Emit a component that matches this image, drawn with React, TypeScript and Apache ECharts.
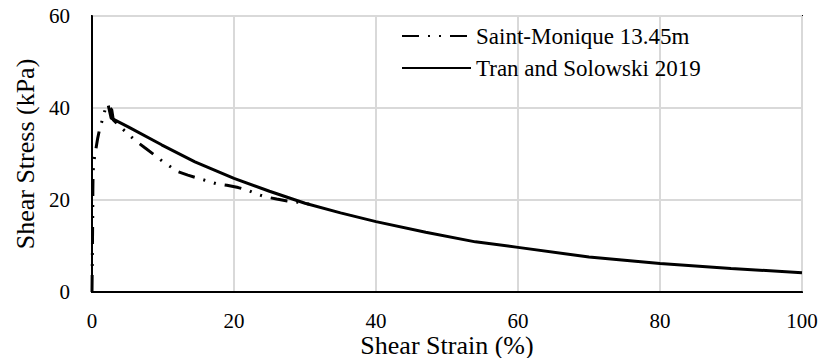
import React, { useEffect, useRef } from "react";
import * as echarts from "echarts";

// Shear strain (%) and shear stress (kPa) pairs for each curve
const saintMoniqueStrain = [0, 0.05, 0.1, 0.12, 0.15, 0.3, 0.56, 0.8, 1.1, 1.46, 1.84, 2.3, 2.78, 3.0, 4.0, 5.1, 6.2, 7.4, 8.7, 10.0, 10.8, 12.0, 13.5, 14.8, 17.6, 19.0, 20.6, 21.8, 23.0, 24.4, 26.0, 27.5, 29.0, 31.0];
const saintMoniqueStress = [0, 8, 16, 22, 26, 28.7, 31.2, 33.4, 35.6, 37.4, 39.6, 40.5, 39.6, 37.4, 35.9, 34.3, 32.8, 31.4, 29.9, 28.3, 27.5, 26.2, 25.4, 24.8, 23.5, 23.2, 22.7, 22.2, 21.4, 20.7, 20.2, 19.8, 19.5, 19.0];

const tranStrain = [2.3, 2.7, 5.1, 9.8, 14.5, 20.0, 25.0, 30.0, 35.0, 40.0, 47.0, 54.0, 60.0, 70.0, 80.0, 90.0, 100.0];
const tranStress = [40.5, 37.8, 35.9, 32.0, 28.3, 24.7, 21.9, 19.3, 17.2, 15.3, 13.0, 10.9, 9.7, 7.6, 6.2, 5.1, 4.2];

const seriesNames = ["Saint-Monique 13.45m", "Tran and Solowski 2019"];
const xTitle = "Shear Strain (%)";
const yTitle = "Shear Stress (kPa)";

const pairs = (xs: number[], ys: number[]) => xs.map((x, i) => [x, ys[i]]);

const FONT = "'Liberation Serif', serif";

export default function App() {
  const ref = useRef<HTMLDivElement>(null);

  useEffect(() => {
    if (!ref.current) return;
    const chart = echarts.init(ref.current, undefined, { renderer: "svg" });
    chart.setOption({
      animation: false,
      backgroundColor: "#ffffff",
      textStyle: { fontFamily: FONT, color: "#000" },
      grid: {
        left: 92,
        right: 21,
        top: 16,
        bottom: 66,
        containLabel: false,
        outerBoundsMode: "none",
        show: true,
        borderColor: "#000",
        borderWidth: 2,
        backgroundColor: "transparent",
      },
      legend: {
        orient: "vertical",
        left: 401,
        top: 24,
        padding: 0,
        itemWidth: 69,
        itemHeight: 14,
        itemGap: 8,
        // hide the marker circle so that only the line sample shows
        itemStyle: { opacity: 0 },
        textStyle: { fontFamily: FONT, fontSize: 23, color: "#000", lineHeight: 24 },
        data: seriesNames,
      },
      xAxis: {
        type: "value",
        min: 0,
        max: 100,
        interval: 20,
        name: xTitle,
        nameLocation: "middle",
        nameGap: 40,
        nameMoveOverlap: false,
        nameTextStyle: { fontFamily: FONT, fontSize: 26, lineHeight: 26, color: "#000" },
        axisLine: { show: true, lineStyle: { color: "#000", width: 2 } },
        axisTick: { show: false },
        axisLabel: { fontFamily: FONT, fontSize: 21, lineHeight: 18, color: "#000", margin: 20 },
        splitLine: { show: true, lineStyle: { color: "#d9d9d9", width: 2 } },
      },
      yAxis: {
        type: "value",
        min: 0,
        max: 60,
        interval: 20,
        name: yTitle,
        nameLocation: "middle",
        nameGap: 52,
        nameTextStyle: { fontFamily: FONT, fontSize: 26, color: "#000" },
        axisLine: { show: true, lineStyle: { color: "#000", width: 2 } },
        axisTick: { show: false },
        axisLabel: { fontFamily: FONT, fontSize: 21, color: "#000", margin: 22 },
        splitLine: { show: true, lineStyle: { color: "#d9d9d9", width: 2 } },
      },
      series: [
        {
          name: seriesNames[0],
          type: "line",
          data: pairs(saintMoniqueStrain, saintMoniqueStress),
          symbol: "none",
          z: 3,
          lineStyle: { color: "#000", width: 3, type: [17, 9, 2, 9, 2, 9], cap: "butt" },
          itemStyle: { color: "#000" },
        },
        {
          name: seriesNames[1],
          type: "line",
          data: pairs(tranStrain, tranStress),
          symbol: "none",
          z: 2,
          lineStyle: { color: "#000", width: 3, type: "solid" },
          itemStyle: { color: "#000" },
        },
      ],
    });
    return () => chart.dispose();
  }, []);

  return (
    <div
      ref={ref}
      style={{ position: "fixed", left: 0, top: 0, width: 823, height: 358, background: "#fff" }}
    />
  );
}
